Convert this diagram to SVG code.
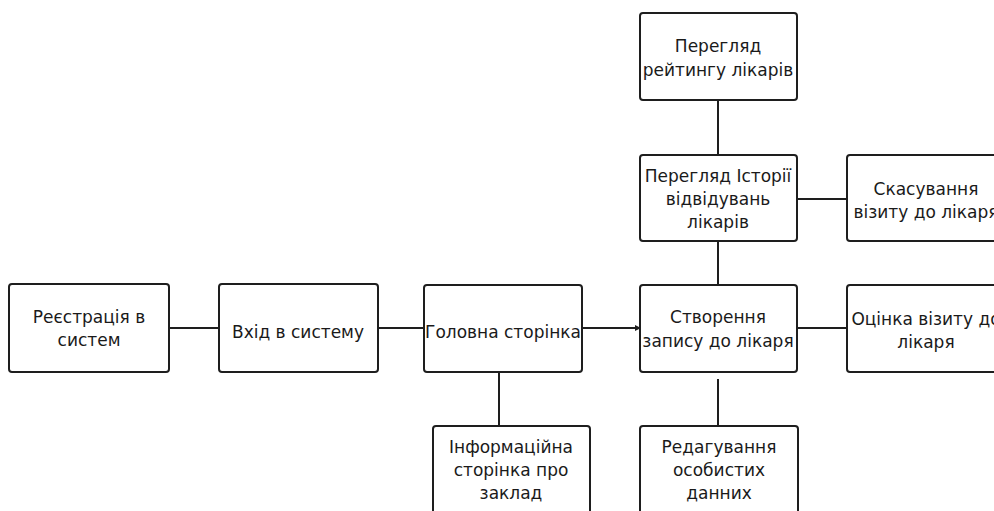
<svg xmlns="http://www.w3.org/2000/svg" width="994" height="511" viewBox="0 0 994 511">
  <style>
    .box { fill: #ffffff; stroke: #1e1e1e; stroke-width: 2; }
    .lbl { font-family: "DejaVu Sans", "Liberation Sans", sans-serif; font-size: 17px; fill: #1a1a1a; text-anchor: middle; }
    .conn { stroke: #1e1e1e; stroke-width: 2; fill: none; }
  </style>
  <defs>
    <marker id="dot" viewBox="0 0 6 6" refX="5" refY="3" markerWidth="3" markerHeight="3" markerUnits="strokeWidth" orient="auto">
      <path d="M0,0 L6,3 L0,6 z" fill="#1e1e1e"/>
    </marker>
  </defs>
  <rect width="994" height="511" fill="#ffffff"/>

  <g id="connectors">
    <line class="conn" x1="169" y1="328" x2="219" y2="328"/>
    <line class="conn" x1="378" y1="328" x2="424" y2="328"/>
    <line class="conn" x1="582" y1="328" x2="640" y2="328" marker-end="url(#dot)"/>
    <line class="conn" x1="797" y1="328" x2="847" y2="328"/>
    <line class="conn" x1="797" y1="199" x2="847" y2="199"/>
    <line class="conn" x1="718" y1="100" x2="718" y2="155"/>
    <line class="conn" x1="718" y1="241" x2="718" y2="285"/>
    <line class="conn" x1="718" y1="379" x2="718" y2="426"/>
    <line class="conn" x1="499" y1="372" x2="499" y2="426"/>
  </g>

  <g id="node-registration">
    <rect class="box" x="9" y="284" width="160" height="88" rx="3"/>
    <text class="lbl" x="89" y="323">Реєстрація в</text>
    <text class="lbl" x="89" y="346">систем</text>
  </g>

  <g id="node-login">
    <rect class="box" x="219" y="284" width="159" height="88" rx="3"/>
    <text class="lbl" x="298" y="338">Вхід в систему</text>
  </g>

  <g id="node-main">
    <rect class="box" x="424" y="285" width="158" height="87" rx="3"/>
    <text class="lbl" x="503" y="338">Головна сторінка</text>
  </g>

  <g id="node-create">
    <rect class="box" x="640" y="285" width="157" height="87" rx="3"/>
    <text class="lbl" x="718" y="323">Створення</text>
    <text class="lbl" x="718" y="347">запису до лікаря</text>
  </g>

  <g id="node-rate">
    <rect class="box" x="847" y="285" width="160" height="87" rx="3"/>
    <text class="lbl" x="926" y="325">Оцінка візиту до</text>
    <text class="lbl" x="926" y="348">лікаря</text>
  </g>

  <g id="node-rating">
    <rect class="box" x="640" y="13" width="157" height="87" rx="3"/>
    <text class="lbl" x="718" y="52">Перегляд</text>
    <text class="lbl" x="718" y="76">рейтингу лікарів</text>
  </g>

  <g id="node-history">
    <rect class="box" x="640" y="155" width="157" height="86" rx="3"/>
    <text class="lbl" x="718" y="182">Перегляд Історії</text>
    <text class="lbl" x="718" y="205">відвідувань</text>
    <text class="lbl" x="718" y="228">лікарів</text>
  </g>

  <g id="node-cancel">
    <rect class="box" x="847" y="155" width="160" height="86" rx="3"/>
    <text class="lbl" x="926" y="195">Скасування</text>
    <text class="lbl" x="926" y="218">візиту до лікаря</text>
  </g>

  <g id="node-info">
    <rect class="box" x="433" y="426" width="157" height="95" rx="3"/>
    <text class="lbl" x="511" y="453">Інформаційна</text>
    <text class="lbl" x="511" y="476">сторінка про</text>
    <text class="lbl" x="511" y="499">заклад</text>
  </g>

  <g id="node-edit">
    <rect class="box" x="640" y="426" width="158" height="95" rx="3"/>
    <text class="lbl" x="719" y="453">Редагування</text>
    <text class="lbl" x="719" y="476">особистих</text>
    <text class="lbl" x="719" y="499">данних</text>
  </g>
</svg>
